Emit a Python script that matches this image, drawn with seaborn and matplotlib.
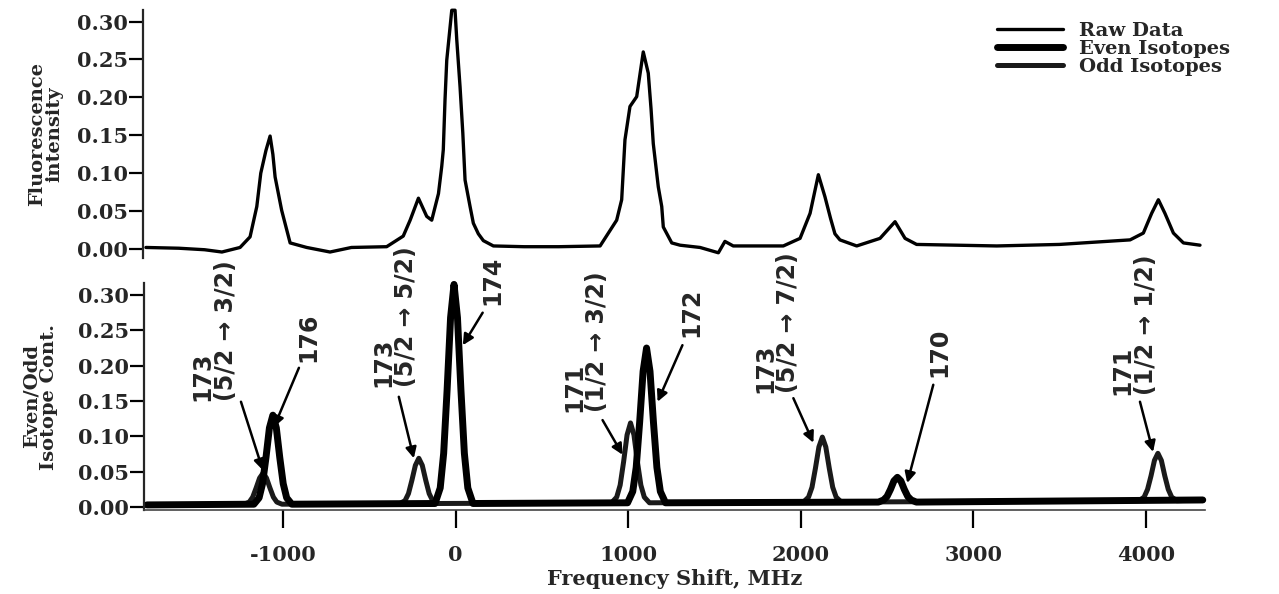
import numpy as np
import pandas as pd
import matplotlib
matplotlib.use("Agg")
import matplotlib.pyplot as plt
import seaborn as sns

# ---------------- data ----------------
raw_x = [-1790, -1600, -1450, -1350, -1245, -1187, -1148, -1125, -1095, -1071, -1055, -1042, -1004, -955,
         -859, -724, -600, -396, -300, -260, -212, -164, -135, -96, -77, -68, -58, -48, -19, 0, 10, 29,
         45, 58, 87, 106, 135, 164,
         222, 400, 600, 840, 936, 965, 984, 1013, 1052, 1090, 1119, 1135, 1148, 1177, 1197, 1206, 1255,
         1303, 1419,
         1525, 1563, 1611, 1901, 1998, 2056, 2104, 2142, 2175, 2200, 2229, 2326, 2461, 2548, 2606, 2673,
         3137, 3500, 3909, 3986, 4034, 4073, 4111, 4160, 4218, 4314]
raw_y = [0.002, 0.001, -0.001, -0.004, 0.002, 0.016, 0.056, 0.100, 0.130, 0.149, 0.125, 0.095, 0.051, 0.008,
         0.002, -0.004, 0.002, 0.003, 0.017, 0.038, 0.067, 0.043, 0.038, 0.073, 0.109, 0.131, 0.197, 0.249,
         0.315, 0.315, 0.276, 0.214,
         0.153, 0.091, 0.056, 0.034, 0.020, 0.011,
         0.004, 0.003, 0.003, 0.004, 0.038, 0.065, 0.144, 0.188, 0.201, 0.260, 0.232, 0.185, 0.139, 0.082,
         0.056, 0.029, 0.008, 0.005, 0.002,
         -0.005, 0.010, 0.004, 0.004, 0.014, 0.047, 0.098, 0.069, 0.040, 0.020, 0.012, 0.004, 0.014, 0.036,
         0.014, 0.006, 0.004, 0.006, 0.012, 0.021, 0.047, 0.065, 0.047, 0.021, 0.008, 0.005]

even_x = [-1790,
          -1170, -1140, -1120, -1100, -1080, -1060, -1040, -1020, -1000, -980, -950,
          -120, -90, -70, -50, -30, -10, 10, 30, 50, 70, 100,
          996, 1026, 1046, 1066, 1086, 1106, 1126, 1146, 1166, 1186, 1216,
          2450, 2480, 2500, 2520, 2540, 2560, 2580, 2600, 2620, 2640, 2670,
          4330]
even_y = [0.003,
          0.004, 0.013, 0.033, 0.070, 0.112, 0.130, 0.112, 0.070, 0.033, 0.013, 0.004,
          0.005, 0.027, 0.076, 0.166, 0.268, 0.315, 0.268, 0.166, 0.076, 0.027, 0.005,
          0.006, 0.022, 0.056, 0.120, 0.192, 0.225, 0.192, 0.120, 0.056, 0.022, 0.006,
          0.007, 0.010, 0.015, 0.025, 0.037, 0.042, 0.037, 0.025, 0.015, 0.010, 0.007,
          0.010]

odd_x = [-1790,
         -1227, -1197, -1177, -1157, -1137, -1117, -1097, -1077, -1057, -1037, -1007,
         -324, -294, -274, -254, -234, -214, -194, -174, -154, -134, -104,
         903, 933, 953, 973, 993, 1013, 1033, 1053, 1073, 1093, 1123,
         2015, 2045, 2065, 2085, 2105, 2125, 2145, 2165, 2185, 2205, 2235,
         3960, 3990, 4010, 4030, 4050, 4070, 4090, 4110, 4130, 4150, 4180,
         4330]
odd_y = [0.003,
         0.004, 0.007, 0.014, 0.027, 0.041, 0.048, 0.041, 0.027, 0.014, 0.007, 0.004,
         0.005, 0.009, 0.019, 0.038, 0.059, 0.069, 0.059, 0.038, 0.019, 0.009, 0.005,
         0.006, 0.014, 0.031, 0.064, 0.102, 0.119, 0.102, 0.064, 0.031, 0.014, 0.006,
         0.007, 0.014, 0.028, 0.055, 0.085, 0.099, 0.085, 0.055, 0.028, 0.014, 0.007,
         0.009, 0.014, 0.025, 0.044, 0.066, 0.076, 0.066, 0.044, 0.025, 0.014, 0.009,
         0.010]

y_ticks = [0.00, 0.05, 0.10, 0.15, 0.20, 0.25, 0.30]
x_ticks = [-1000, 0, 1000, 2000, 3000, 4000]
legend_labels = ["Raw Data", "Even Isotopes", "Odd Isotopes"]

peak_labels = ["173\n(5/2 \u2192 3/2)", "176", "173\n(5/2 \u2192 5/2)", "174",
               "171\n(1/2 \u2192 3/2)", "172", "173\n(5/2 \u2192 7/2)", "170",
               "171\n(1/2 \u2192 1/2)"]
# layout: text anchor (bottom centre), arrow tail, arrow head  (data coords)
label_pos = [(-1401, 0.150), (-857, 0.205), (-353, 0.170), (214, 0.286), (753, 0.134),
             (1367, 0.241), (1859, 0.161), (2803, 0.184), (3932, 0.158)]
arrow_tail = [(-1245, 0.149), (-909, 0.197), (-330, 0.156), (156, 0.275), (851, 0.123),
              (1314, 0.229), (1957, 0.154), (2768, 0.173), (3966, 0.149)]
arrow_head = [(-1118, 0.052), (-1054, 0.113), (-243, 0.069), (41, 0.229), (967, 0.074),
              (1170, 0.149), (2073, 0.091), (2617, 0.034), (4042, 0.078)]

# ---------------- style ----------------
sns.set_style("ticks")
plt.rcParams["font.family"] = ["DejaVu Serif"]
plt.rcParams["font.weight"] = "bold"

W, H = 1279, 594
fig = plt.figure(figsize=(W / 100, H / 100), dpi=100)
ax_top = fig.add_axes([143 / W, 1 - 258 / H, 1062 / W, 248 / H])
ax_bot = fig.add_axes([144 / W, 1 - 510 / H, 1061 / W, 227 / H])

raw_df = pd.DataFrame({"x": raw_x, "y": raw_y})
even_df = pd.DataFrame({"x": even_x, "y": even_y})
odd_df = pd.DataFrame({"x": odd_x, "y": odd_y})

sns.lineplot(data=raw_df, x="x", y="y", ax=ax_top, color="black", lw=2.4,
             sort=False, estimator=None, legend=False)
sns.lineplot(data=odd_df, x="x", y="y", ax=ax_bot, color="#1a1a1a", lw=3.6,
             sort=False, estimator=None, legend=False)
sns.lineplot(data=even_df, x="x", y="y", ax=ax_bot, color="black", lw=5.0,
             sort=False, estimator=None, legend=False)
for ln in ax_top.lines + ax_bot.lines:
    ln.set_clip_on(False)
    ln.set_solid_joinstyle("round")

xlim = (-1807, 4343)
for ax in (ax_top, ax_bot):
    ax.set_xlim(*xlim)
    ax.set_yticks(y_ticks)
    ax.set_yticklabels([f"{t:.2f}" for t in y_ticks])
    ax.tick_params(axis="y", direction="out", length=10, width=1.6, pad=1,
                   labelsize=15, color="black")
    ax.spines["top"].set_visible(False)
    ax.spines["right"].set_visible(False)
    ax.spines["left"].set_linewidth(1.6)
    for lab in ax.get_yticklabels():
        lab.set_fontweight("bold")

ax_top.set_ylim(-0.0119, 0.3153)
ax_bot.set_ylim(-0.0042, 0.317)

ax_top.spines["bottom"].set_visible(False)
ax_top.set_xticks([])
ax_top.set_xlabel("")

ax_bot.spines["bottom"].set_linewidth(1.2)
ax_bot.spines["bottom"].set_color("#444444")
ax_bot.set_xticks(x_ticks)
ax_bot.set_xticklabels([str(t) for t in x_ticks])
ax_bot.tick_params(axis="x", direction="out", length=13, width=1.6, pad=12,
                   labelsize=15, color="black")
for lab in ax_bot.get_xticklabels():
    lab.set_fontweight("bold")

ax_top.set_ylabel("Fluorescence\nintensity", fontsize=14, fontweight="bold",
                  linespacing=0.95, multialignment="center")
ax_top.yaxis.set_label_coords(-0.0753, 0.5)
ax_bot.set_ylabel("Even/Odd\nIsotope Cont.", fontsize=14, fontweight="bold",
                  linespacing=0.95, multialignment="center")
ax_bot.yaxis.set_label_coords(-0.081, 0.5)
ax_bot.set_xlabel("Frequency Shift, MHz", fontsize=15, fontweight="bold")
ax_bot.xaxis.set_label_coords(0.5, -0.262)

# peak annotations
for txt, (tx, ty), tail, head in zip(peak_labels, label_pos, arrow_tail, arrow_head):
    ax_bot.text(tx, ty, txt, rotation=90, ha="center", va="bottom",
                multialignment="left", fontsize=17, fontweight="bold",
                family="DejaVu Sans", linespacing=0.95, clip_on=False, zorder=5)
    ax_bot.annotate("", xy=head, xytext=tail, annotation_clip=False,
                    arrowprops=dict(arrowstyle="-|>", lw=1.8, color="black",
                                    mutation_scale=16, shrinkA=0, shrinkB=0))

# legend
handles = [ax_top.lines[0], ax_bot.lines[1], ax_bot.lines[0]]
fig.legend(handles, legend_labels, loc="upper left",
           bbox_to_anchor=(997 / W, 1 - 22 / H), frameon=False,
           prop=dict(family="DejaVu Serif", weight="bold", size=14),
           handlelength=3.4, handletextpad=0.8, labelspacing=0.0,
           borderpad=0, borderaxespad=0)

fig.savefig("out.png", dpi=100)
